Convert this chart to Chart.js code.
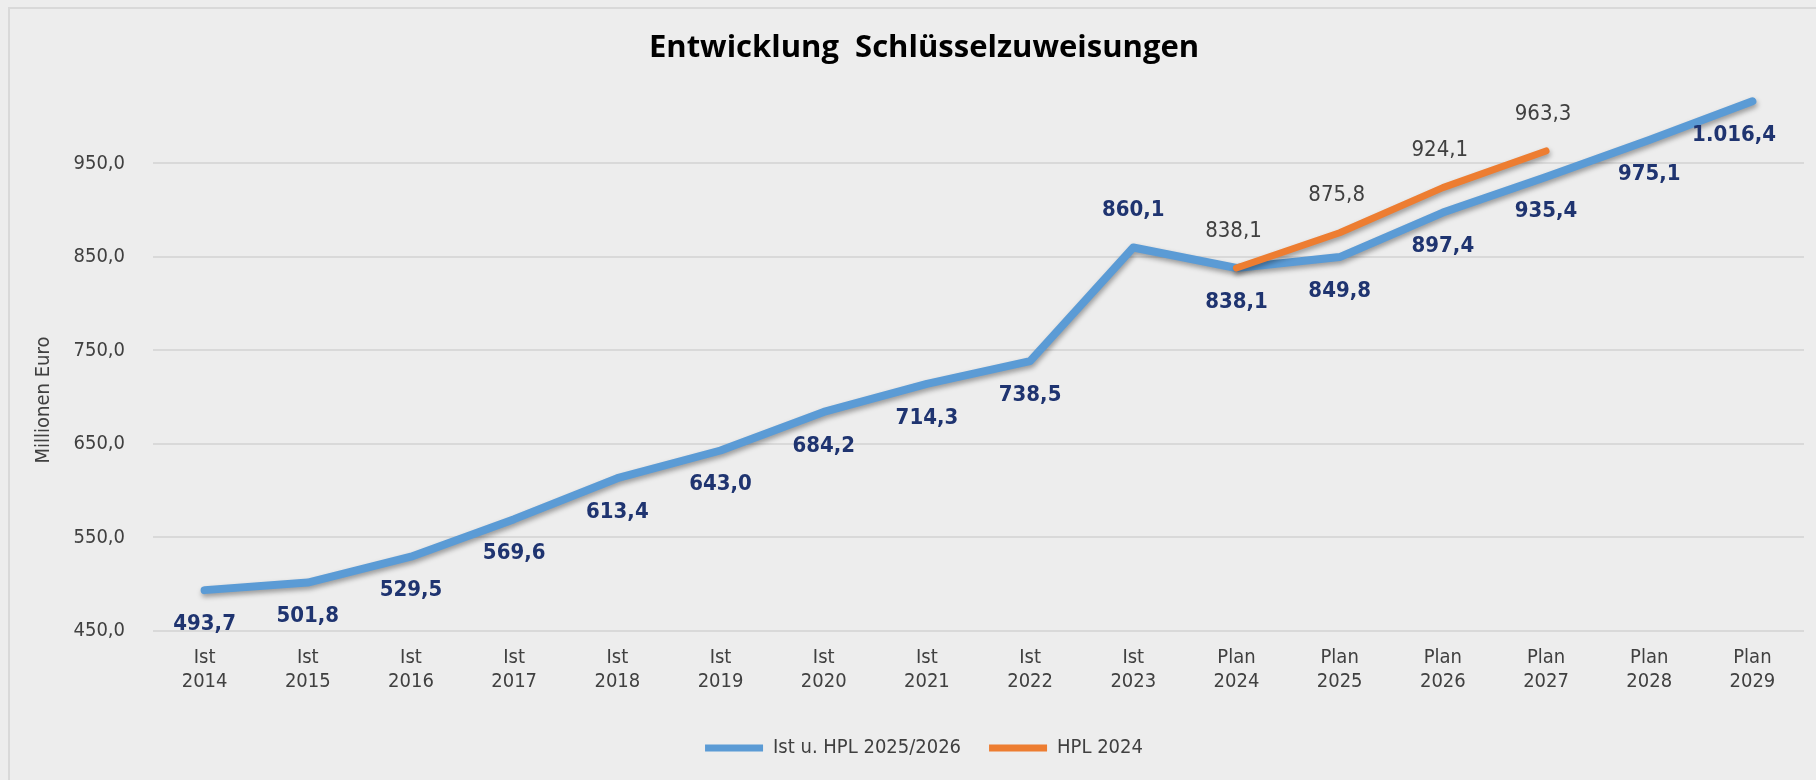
<!DOCTYPE html>
<html>
<head>
<meta charset="utf-8">
<script src="https://cdn.jsdelivr.net/npm/chart.js@4.4.1/dist/chart.umd.min.js"></script>
<style>
  html, body { margin: 0; padding: 0; background: #ededed; }
  #wrap { position: absolute; left: 0; top: 0; width: 1816px; height: 780px; }
  #frame { position: absolute; left: 8px; top: 7px; width: 1830px; height: 800px; border: 2px solid #d9d9d9; box-sizing: border-box; }
  canvas { position: absolute; left: 0; top: 0; }
</style>
</head>
<body>
<div id="wrap">
  <div id="frame"></div>
  <canvas id="c" width="1816" height="780"></canvas>
</div>
<script>
const categories = [
  ["Ist","2014"],["Ist","2015"],["Ist","2016"],["Ist","2017"],["Ist","2018"],
  ["Ist","2019"],["Ist","2020"],["Ist","2021"],["Ist","2022"],["Ist","2023"],
  ["Plan","2024"],["Plan","2025"],["Plan","2026"],["Plan","2027"],["Plan","2028"],["Plan","2029"]
];
const seriesIst = [493.7, 501.8, 529.5, 569.6, 613.4, 643.0, 684.2, 714.3, 738.5, 860.1, 838.1, 849.8, 897.4, 935.4, 975.1, 1016.4];
const seriesHPL2024 = [null, null, null, null, null, null, null, null, null, null, 838.1, 875.8, 924.1, 963.3, null, null];
const seriesNames = ["Ist u. HPL 2025/2026", "HPL 2024"];
const yTickValues = [450, 550, 650, 750, 850, 950];
const chartTitle = "Entwicklung  Schlüsselzuweisungen";
const yAxisTitle = "Millionen Euro";

const BLUE = "#5b9bd5";
const ORANGE = "#ed7d31";
const NARROW = "'Liberation Sans Narrow', 'DejaVu Sans Condensed', 'Liberation Sans', sans-serif";

function fmt(v) {
  const neg = v < 0; v = Math.abs(v);
  let s = v.toFixed(1);
  let [ip, dp] = s.split(".");
  ip = ip.replace(/\B(?=(\d{3})+(?!\d))/g, ".");
  return (neg ? "-" : "") + ip + "," + dp;
}

// label placement: blue labels below the line except at the peak
const blueAbove = [false,false,false,false,false,false,false,false,false,true,false,false,false,false,false,false];

const shadowPlugin = {
  id: "shadow",
  beforeDatasetDraw(chart) {
    const ctx = chart.ctx;
    ctx.save();
    ctx.shadowColor = "rgba(0,0,0,0.35)";
    ctx.shadowBlur = 5;
    ctx.shadowOffsetX = 1;
    ctx.shadowOffsetY = 3;
  },
  afterDatasetDraw(chart) { chart.ctx.restore(); }
};

const labelPlugin = {
  id: "valueLabels",
  afterDatasetsDraw(chart) {
    const ctx = chart.ctx;
    const area = chart.chartArea;
    ctx.save();
    ctx.textAlign = "center";
    ctx.textBaseline = "middle";
    const m0 = chart.getDatasetMeta(0);
    ctx.font = "bold 22px " + NARROW;
    ctx.fillStyle = "#1f3470";
    m0.data.forEach((pt, i) => {
      const v = chart.data.datasets[0].data[i];
      if (v == null) return;
      const dy = blueAbove[i] ? -37 : 34;
      const txt = fmt(v);
      const w = ctx.measureText(txt).width;
      let x = pt.x;
      const limit = area.right - 28;
      if (x + w / 2 > limit) x = limit - w / 2;
      ctx.fillText(txt, x, pt.y + dy);
    });
    const m1 = chart.getDatasetMeta(1);
    ctx.font = "22px " + NARROW;
    ctx.fillStyle = "#404040";
    m1.data.forEach((pt, i) => {
      const v = chart.data.datasets[1].data[i];
      if (v == null) return;
      ctx.fillText(fmt(v), pt.x - 3, pt.y - 37);
    });
    ctx.restore();
  }
};

const yTitlePlugin = {
  id: "yTitle",
  afterDraw(chart) {
    const ctx = chart.ctx;
    ctx.save();
    ctx.translate(44, 400);
    ctx.rotate(-Math.PI / 2);
    ctx.textAlign = "center";
    ctx.textBaseline = "middle";
    ctx.font = "20px " + NARROW;
    ctx.fillStyle = "#404040";
    ctx.fillText(yAxisTitle, 0, 0);
    ctx.restore();
  }
};

new Chart(document.getElementById("c"), {
  type: "line",
  data: {
    labels: categories,
    datasets: [
      { label: seriesNames[0], data: seriesIst, borderColor: BLUE, backgroundColor: BLUE, borderWidth: 8,
        pointRadius: 0, borderCapStyle: "round", borderJoinStyle: "round", tension: 0, order: 2 },
      { label: seriesNames[1], data: seriesHPL2024, borderColor: ORANGE, backgroundColor: ORANGE, borderWidth: 7,
        pointRadius: 0, borderCapStyle: "round", borderJoinStyle: "round", tension: 0, order: 1, spanGaps: false }
    ]
  },
  options: {
    responsive: false,
    maintainAspectRatio: false,
    animation: false,
    layout: { padding: { left: 44, right: 12, top: 6, bottom: 12 } },
    plugins: {
      tooltip: { enabled: false },
      title: {
        display: true, text: chartTitle, color: "#000",
        font: { family: "'Open Sans', 'Noto Sans', sans-serif", size: 31, weight: "bold" },
        padding: { top: 24, bottom: 12 }
      },
      legend: {
        position: "bottom",
        labels: {
          color: "#404040",
          font: { family: NARROW, size: 20 },
          boxWidth: 58, boxHeight: 7, padding: 28,
          generateLabels(chart) {
            return chart.data.datasets.map((ds, i) => ({
              text: ds.label, fillStyle: ds.borderColor, strokeStyle: ds.borderColor,
              lineWidth: 0, hidden: false, datasetIndex: i, fontColor: "#404040"
            }));
          }
        }
      }
    },
    scales: {
      x: {
        offset: true,
        grid: { display: false },
        border: { display: false },
        ticks: { color: "#404040", font: { family: NARROW, size: 20, lineHeight: 1.2 }, padding: 7, maxRotation: 0, autoSkip: false },
        afterFit(scale) { scale.height = 79; }
      },
      y: {
        min: 450, max: 1040,
        afterBuildTicks(scale) { scale.ticks = yTickValues.map(v => ({ value: v })); },
        grid: { color: "#d9d9d9", lineWidth: 2, drawTicks: false },
        border: { display: false },
        ticks: { color: "#404040", font: { family: NARROW, size: 20 }, padding: 28,
                 callback: (v) => fmt(v) },
        afterFit(scale) { scale.width = 109; }
      }
    }
  },
  plugins: [shadowPlugin, labelPlugin, yTitlePlugin]
});
</script>
</body>
</html>
